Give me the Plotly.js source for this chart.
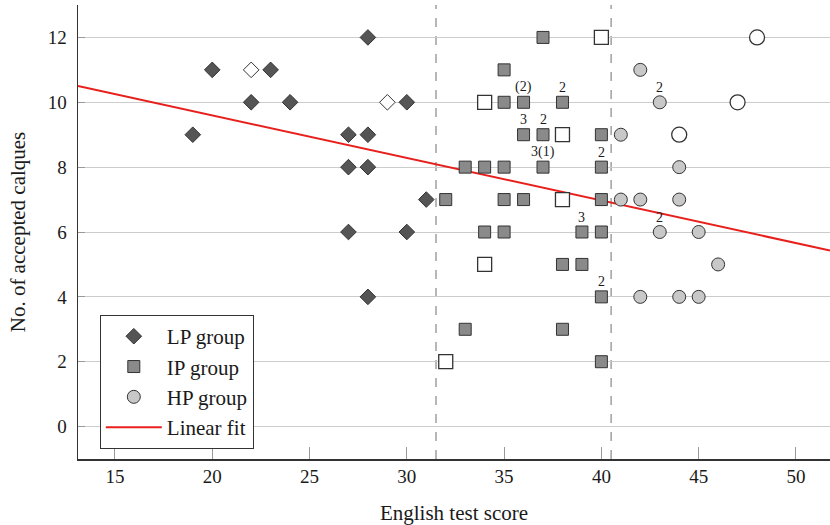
<!DOCTYPE html>
<html>
<head>
<meta charset="utf-8">
<script src="https://cdn.plot.ly/plotly-3.0.1.min.js"></script>
<style>html,body{margin:0;padding:0;background:#fff;}#chart{width:830px;height:525px;}</style>
</head>
<body>
<div id="chart"></div>
<script>
// LP group (diamonds)
const lpX = [19, 20, 22, 23, 24, 27, 27, 27, 28, 28, 28, 28, 30, 30, 31];
const lpY = [9, 11, 10, 11, 10, 9, 8, 6, 12, 9, 8, 4, 10, 6, 7];
const lpOpenX = [22, 29];
const lpOpenY = [11, 10];
// IP group (squares)
const ipX = [37, 35, 35, 36, 38, 36, 37, 40, 33, 34, 35, 37, 40, 32, 35, 36, 40, 34, 35, 39, 40, 38, 39, 40, 33, 38, 40];
const ipY = [12, 11, 10, 10, 10, 9, 9, 9, 8, 8, 8, 8, 8, 7, 7, 7, 7, 6, 6, 6, 6, 5, 5, 4, 3, 3, 2];
const ipOpenX = [40, 34, 38, 38, 34, 32];
const ipOpenY = [12, 10, 9, 7, 5, 2];
// HP group (circles)
const hpX = [42, 43, 41, 44, 41, 42, 44, 43, 45, 46, 42, 44, 45];
const hpY = [11, 10, 9, 8, 7, 7, 7, 6, 6, 5, 4, 4, 4];
const hpOpenX = [48, 47, 44];
const hpOpenY = [12, 10, 9];
// Linear fit (end points)
const fitX = [13.1, 51.75];
const fitY = [10.5, 5.43];
// Group cut-off scores (dashed lines)
const cutoffs = [31.5, 40.5];
// Count labels above points
const labelX = [36, 38, 36, 37, 37, 40, 39, 40, 43, 43];
const labelY = [10, 10, 9, 9, 8, 8, 6, 4, 10, 6];
const labelText = ['(2)', '2', '3', '2', '3(1)', '2', '3', '2', '2', '2'];
// Axis ticks
const xTicks = [15, 20, 25, 30, 35, 40, 45, 50];
const yTicks = [0, 2, 4, 6, 8, 10, 12];

const FONT = 'Liberation Serif';
const EDGE = '#333333';
const TXT = '#1a1a1a';

function mk(symbol, size, fill) {
  return {symbol: symbol, size: size, color: fill, line: {color: EDGE, width: 1}};
}

const traces = [
  {x: fitX, y: fitY, mode: 'lines', name: 'Linear fit', line: {color: '#e8201c', width: 2}, legendrank: 4, hoverinfo: 'skip'},
  {x: lpX, y: lpY, mode: 'markers', name: 'LP group', marker: mk('diamond', 12, '#555555'), legendrank: 1},
  {x: lpOpenX, y: lpOpenY, mode: 'markers', name: 'LP open', showlegend: false, marker: mk('diamond', 12, '#ffffff')},
  {x: ipX, y: ipY, mode: 'markers', name: 'IP group', marker: mk('square', 12, '#8a8a8a'), legendrank: 2},
  {x: ipOpenX, y: ipOpenY, mode: 'markers', name: 'IP open', showlegend: false, marker: {symbol: 'square', size: 14, color: '#ffffff', line: {color: EDGE, width: 1.3}}},
  {x: hpX, y: hpY, mode: 'markers', name: 'HP group', marker: mk('circle', 13, '#c8c8c8'), legendrank: 3},
  {x: hpOpenX, y: hpOpenY, mode: 'markers', name: 'HP open', showlegend: false, marker: {symbol: 'circle', size: 15, color: '#ffffff', line: {color: EDGE, width: 1.3}}}
];

const shapes = cutoffs.map(c => ({
  type: 'line', xref: 'x', yref: 'paper', x0: c, x1: c, y0: 0, y1: 1,
  line: {color: '#888888', width: 1.2, dash: 'dash'}, layer: 'below'
}));

const annotations = labelText.map((t, i) => ({
  x: labelX[i], y: labelY[i], text: t, showarrow: false, yshift: 15,
  font: {family: FONT, size: 14, color: TXT}
}));

const layout = {
  width: 830, height: 525,
  margin: {l: 78, r: 0, t: 5, b: 66},
  paper_bgcolor: '#ffffff', plot_bgcolor: '#ffffff',
  font: {family: FONT, size: 19, color: TXT},
  showlegend: true,
  legend: {
    x: 0.029, y: 0.317, xanchor: 'left', yanchor: 'top',
    bgcolor: '#ffffff', bordercolor: EDGE, borderwidth: 1,
    font: {family: FONT, size: 21, color: TXT},
    traceorder: 'normal', itemwidth: 56, tracegroupgap: 0
  },
  xaxis: {
    range: [13.1, 51.75], tickvals: xTicks, ticktext: xTicks.map(String),
    showgrid: false, zeroline: false, showline: true, linecolor: EDGE, linewidth: 1.5,
    ticks: 'inside', ticklen: 12, tickcolor: '#999999', tickwidth: 1,
    tickfont: {family: FONT, size: 19, color: TXT},
    title: {text: 'English test score', font: {family: FONT, size: 21, color: TXT}, standoff: 19}
  },
  yaxis: {
    range: [-1, 13], tickvals: yTicks, ticktext: yTicks.map(String),
    showgrid: true, gridcolor: '#cccccc', gridwidth: 1, zeroline: false,
    showline: true, linecolor: EDGE, linewidth: 1.5,
    ticks: 'inside', ticklen: 7, tickcolor: '#999999', tickwidth: 1,
    ticklabelstandoff: 6,
    tickfont: {family: FONT, size: 19, color: TXT},
    title: {text: 'No. of accepted calques', font: {family: FONT, size: 21, color: TXT}, standoff: 16}
  },
  shapes: shapes,
  annotations: annotations
};

Plotly.newPlot('chart', traces, layout, {staticPlot: true, displayModeBar: false});
</script>
</body>
</html>
